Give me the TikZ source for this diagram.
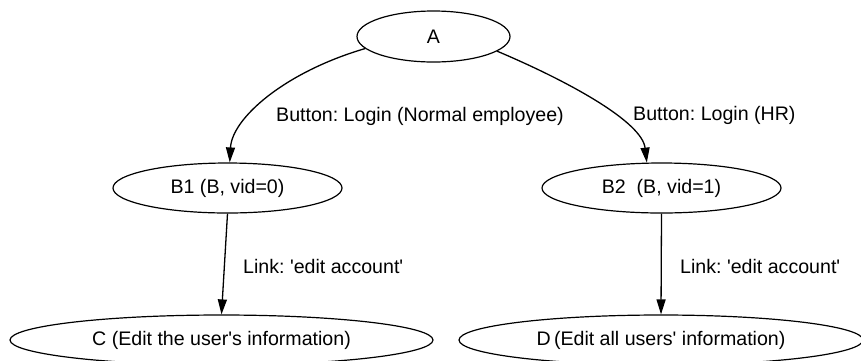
\documentclass[tikz,border=0pt]{standalone}
\usepackage{fontspec}
\setmainfont{Liberation Sans}
\usetikzlibrary{shapes.geometric,arrows.meta}
\frenchspacing

\tikzset{
  state/.style={ellipse, draw=black, line width=1.2pt, inner sep=0pt,
    font=\fontsize{19.6}{23}\selectfont},
  edgelabel/.style={inner sep=0pt, anchor=base west,
    font=\fontsize{19.6}{23}\selectfont},
  link/.style={draw=black, line width=1.3pt,
    -{Triangle[length=15pt,width=9pt]}}
}
\newcommand{\sq}{\textquotesingle}

\begin{document}
\begin{tikzpicture}[x=1pt,y=1pt]
  \fill[white] (0,0) rectangle (861,-360);
  \useasboundingbox (0,0) rectangle (861,-360);

  % states
  \node[state, minimum width=153pt, minimum height=51pt] (A)  at (433.5,-36.5) {A};
  \node[state, minimum width=229pt, minimum height=50pt] (B1) at (227.5,-188) {B1 (B, vid=0)};
  \node[state, minimum width=239pt, minimum height=50pt] (B2) at (661.5,-188) {B2\ \ (B, vid=1)};
  \node[state, minimum width=423pt, minimum height=50pt] (C)  at (221.5,-340) {C (Edit the user\sq s information)};
  \node[state, minimum width=404pt, minimum height=50pt] (D)  at (661,-340) {D\,(Edit all users\sq\ information)};

  % transitions
  \draw[link] (A.190) .. controls (285,-72) and (232,-118) .. (B1.85);
  \draw[link] (A.-13) .. controls (570,-82) and (642,-122) .. (B2.120);
  \draw[link] (B1.south) -- (C.north);
  \draw[link] (B2.south) -- (D.north);

  % transition labels
  \node[edgelabel] (lAB1) at (276,-121) {Button: Login (Normal employee)};
  \node[edgelabel] (lAB2) at (633,-120) {Button: Login (HR)};
  \node[edgelabel] (lB1C) at (243,-273) {Link: \sq edit account\sq};
  \node[edgelabel] (lB2D) at (680,-273) {Link: \sq edit account\sq};
\end{tikzpicture}
\end{document}
